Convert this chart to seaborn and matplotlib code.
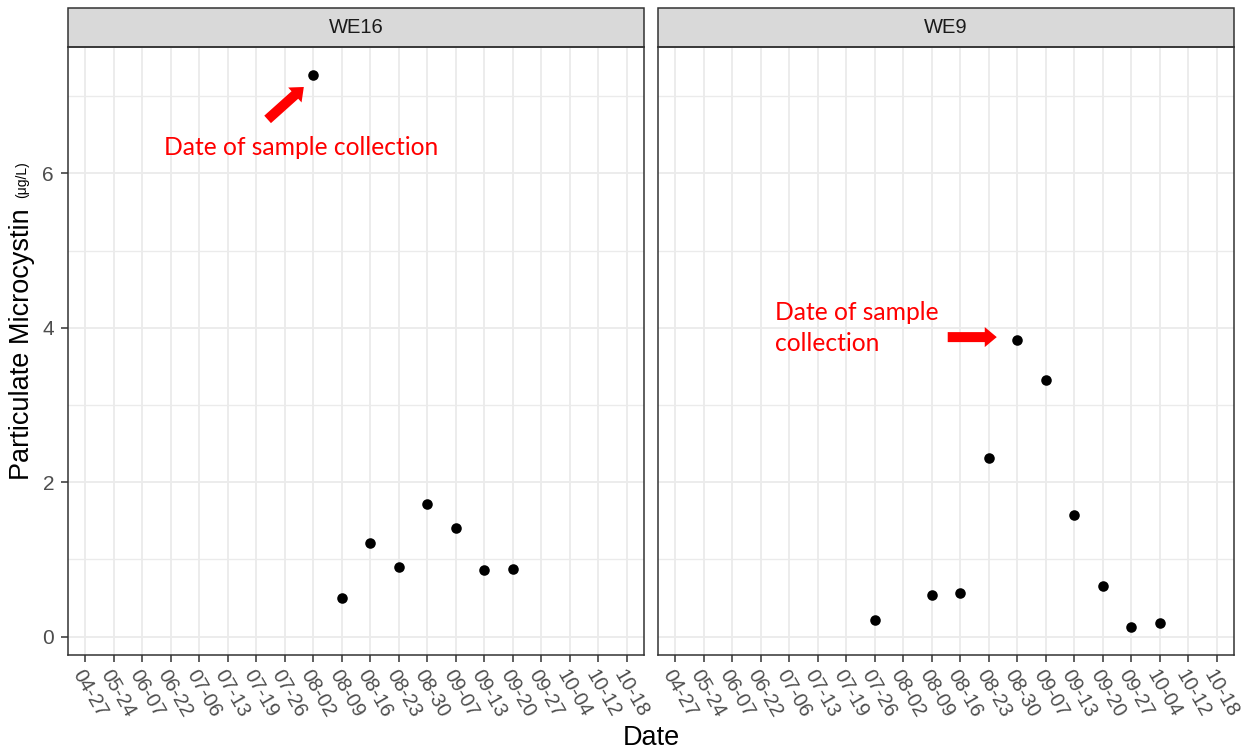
import numpy as np
import pandas as pd
import matplotlib
matplotlib.use("Agg")
import matplotlib.pyplot as plt
import seaborn as sns
from matplotlib.patches import Rectangle
from matplotlib.ticker import MultipleLocator

# sampling dates shown on the discrete x axis
dates = ["04-27", "05-24", "06-07", "06-22", "07-06", "07-13", "07-19", "07-26",
         "08-02", "08-09", "08-16", "08-23", "08-30", "09-07", "09-13", "09-20",
         "09-27", "10-04", "10-12", "10-18"]

we16_dates = ["08-02", "08-09", "08-16", "08-23", "08-30", "09-07", "09-13", "09-20"]
we16_mc = [7.28, 0.50, 1.21, 0.90, 1.72, 1.41, 0.86, 0.88]

we9_dates = ["07-26", "08-09", "08-16", "08-23", "08-30", "09-07", "09-13", "09-20", "09-27", "10-04"]
we9_mc = [0.21, 0.54, 0.57, 2.32, 3.84, 3.33, 1.57, 0.66, 0.12, 0.18]

sites = ["WE16", "WE9"]

df = pd.concat([
    pd.DataFrame({"site": "WE16", "date": we16_dates, "mc": we16_mc}),
    pd.DataFrame({"site": "WE9", "date": we9_dates, "mc": we9_mc}),
], ignore_index=True)

sns.set_theme(style="white")
plt.rcParams["font.family"] = ["Liberation Sans", "DejaVu Sans"]

g = sns.FacetGrid(df, col="site", col_order=sites, height=6, aspect=1, sharey=True, sharex=True)
g.map_dataframe(sns.stripplot, x="date", y="mc", order=dates, jitter=False,
                color="black", size=7.6, linewidth=0)

fig = g.figure
fig.set_size_inches(12.58, 7.51)
fig.subplots_adjust(left=68/1258, right=1234/1258, top=1-47/751, bottom=1-655/751, wspace=14/576)

dark = "#333333"
for i, (ax, site) in enumerate(zip(g.axes.flat, sites)):
    ax.set_xlim(-0.6, len(dates) - 0.4)
    ax.set_ylim(-0.238, 7.638)
    ax.set_yticks([0, 2, 4, 6])
    ax.yaxis.set_minor_locator(MultipleLocator(1))
    ax.set_xticks(range(len(dates)))
    ax.set_xticklabels(dates, rotation=-60, ha="left", va="top", rotation_mode="anchor")
    ax.set_axisbelow(True)
    ax.grid(True, which="major", color="#EBEBEB", lw=1.3)
    ax.grid(True, which="minor", axis="y", color="#EBEBEB", lw=1.0)
    ax.xaxis.grid(True, which="major", color="#EBEBEB", lw=1.3)
    for s in ax.spines.values():
        s.set_visible(True)
        s.set_color(dark)
        s.set_linewidth(1.1)
    ax.tick_params(axis="x", which="major", length=5, width=1.1, color=dark,
                   labelsize=14.5, labelcolor="#4D4D4D", pad=3, bottom=True)
    ax.tick_params(axis="y", which="major", length=5, width=1.1, color=dark,
                   labelsize=15, labelcolor="#4D4D4D", pad=5, left=(i == 0))
    ax.tick_params(axis="y", which="minor", length=0)
    ax.set_xlabel("")
    ax.set_ylabel("")
    ax.set_title("")
    # strip on top of the panel
    sh = 39 / 608
    ax.add_patch(Rectangle((0, 1), 1, sh, transform=ax.transAxes, clip_on=False,
                           facecolor="#D9D9D9", edgecolor=dark, lw=1.1))
    ax.text(0.5, 1 + sh / 2, site, transform=ax.transAxes, ha="center", va="center",
            fontsize=14.5, color="#1A1A1A")

ax1, ax2 = g.axes.flat
arrow = dict(arrowstyle="simple,head_length=0.6,head_width=1.0,tail_width=0.5",
             mutation_scale=14.4, fc="red", ec="none", shrinkA=0, shrinkB=0)

ax1.annotate("", xy=(7.67, 7.12), xytext=(6.40, 6.70), arrowprops=arrow)
ax1.text(2.78, 6.33, "Date of sample collection", color="red", fontsize=17.7,
         family=["Lato", "DejaVu Sans"], ha="left", va="center")

ax2.annotate("", xy=(11.28, 3.88), xytext=(9.56, 3.88), arrowprops=arrow)
ax2.text(3.49, 4.0, "Date of sample\ncollection", color="red", fontsize=17.7,
         family=["Lato", "DejaVu Sans"], ha="left", va="center", linespacing=1.45)

fig.text(651/1258, 1 - 738/751, "Date", ha="center", va="center", fontsize=19.5, color="black")
fig.text(22/1258, 1 - 344/751, "Particulate Microcystin", rotation=90,
         ha="center", va="center", fontsize=19.5, color="black")
fig.text(22/1258, 1 - 180/751, "(μg/L)", rotation=90,
         ha="center", va="center", fontsize=10, color="black")

fig.savefig("out.png", dpi=100)
